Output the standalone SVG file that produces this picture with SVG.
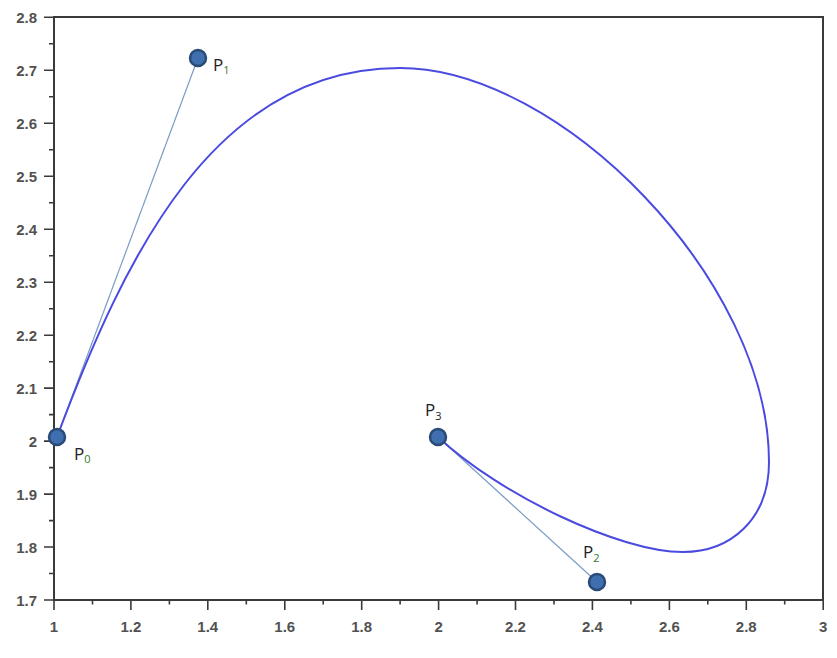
<svg xmlns="http://www.w3.org/2000/svg" width="837" height="658" viewBox="0 0 837 658">
<style>
.ax{stroke:#3a3a3a;stroke-width:2;fill:none}
.tk{stroke:#3a3a3a;stroke-width:1.6}
.yl{font-family:"Liberation Sans",Arial,sans-serif;font-size:15px;fill:#333;text-anchor:end;font-weight:bold;opacity:0.85}
.xl{font-family:"Liberation Sans",Arial,sans-serif;font-size:15px;fill:#333;text-anchor:middle;font-weight:bold;opacity:0.85}
.pt{fill:#3f6fae;stroke:#2a4a78;stroke-width:2.5}
.lbl{font-family:"Open Sans","Liberation Sans",sans-serif;font-size:17px;fill:#222}
.sub{font-size:11px;fill:#2f7a2a}
.sub3{font-size:11px;fill:#222}
.cl{stroke:#7a9cc4;stroke-width:1.2;fill:none}
.curve{stroke:#4a4ae0;stroke-width:2;fill:none}
</style>
<rect width="837" height="658" fill="#fff"/>
<g id="axes">
<path class="ax" d="M54,17 H823 V600 H54 Z"/>
<g class="tk">
<path d="M44,17.3H54M44,70.3H54M44,123.3H54M44,176.2H54M44,229.2H54M44,282.2H54M44,335.2H54M44,388.1H54M44,441.1H54M44,494.1H54M44,547H54M44,600H54"/>
<path d="M49,43.8H54M49,96.8H54M49,149.8H54M49,202.7H54M49,255.7H54M49,308.7H54M49,361.7H54M49,414.6H54M49,467.6H54M49,520.6H54M49,573.5H54"/>
<path d="M54,600V610M130.9,600V610M207.8,600V610M284.8,600V610M361.7,600V610M438.6,600V610M515.5,600V610M592.4,600V610M669.4,600V610M746.3,600V610M823.2,600V610"/>
<path d="M92.5,600V604.5M169.4,600V604.5M246.3,600V604.5M323.2,600V604.5M400.1,600V604.5M477.1,600V604.5M554,600V604.5M630.9,600V604.5M707.8,600V604.5M784.7,600V604.5"/>
</g>
<g class="yl">
<text x="37" y="23">2.8</text>
<text x="37" y="76">2.7</text>
<text x="37" y="129">2.6</text>
<text x="37" y="182">2.5</text>
<text x="37" y="235">2.4</text>
<text x="37" y="288">2.3</text>
<text x="37" y="341">2.2</text>
<text x="37" y="394">2.1</text>
<text x="37" y="447">2</text>
<text x="37" y="500">1.9</text>
<text x="37" y="553">1.8</text>
<text x="37" y="606">1.7</text>
</g>
<g class="xl">
<text x="54" y="632">1</text>
<text x="130.9" y="632">1.2</text>
<text x="207.8" y="632">1.4</text>
<text x="284.8" y="632">1.6</text>
<text x="361.7" y="632">1.8</text>
<text x="438.6" y="632">2</text>
<text x="515.5" y="632">2.2</text>
<text x="592.4" y="632">2.4</text>
<text x="669.4" y="632">2.6</text>
<text x="746.3" y="632">2.8</text>
<text x="823.2" y="632">3</text>
</g>
</g>
<g id="connectors">
<line class="cl" x1="57" y1="437" x2="198" y2="58"/>
<line class="cl" x1="438" y1="437" x2="597" y2="582"/>
<path class="curve" d="M57,437 C125,255 215,68 400,68 C560,68 769,280 769,462 C769,520 730,552 683,552 C620,552 500,495 438,437"/>
</g>
<g id="P0">
<circle class="pt" cx="57" cy="437" r="8"/>
<text class="lbl" x="74" y="460">P<tspan class="sub" dy="3">0</tspan></text>
</g>
<g id="P1">
<circle class="pt" cx="198" cy="58" r="8"/>
<text class="lbl" x="213" y="71">P<tspan class="sub" dy="3">1</tspan></text>
</g>
<g id="P2">
<circle class="pt" cx="597" cy="582" r="8"/>
<text class="lbl" x="583" y="558">P<tspan class="sub" dy="4">2</tspan></text>
</g>
<g id="P3">
<circle class="pt" cx="438" cy="437" r="8"/>
<text class="lbl" x="425" y="416">P<tspan class="sub3" dy="4">3</tspan></text>
</g>
</svg>
